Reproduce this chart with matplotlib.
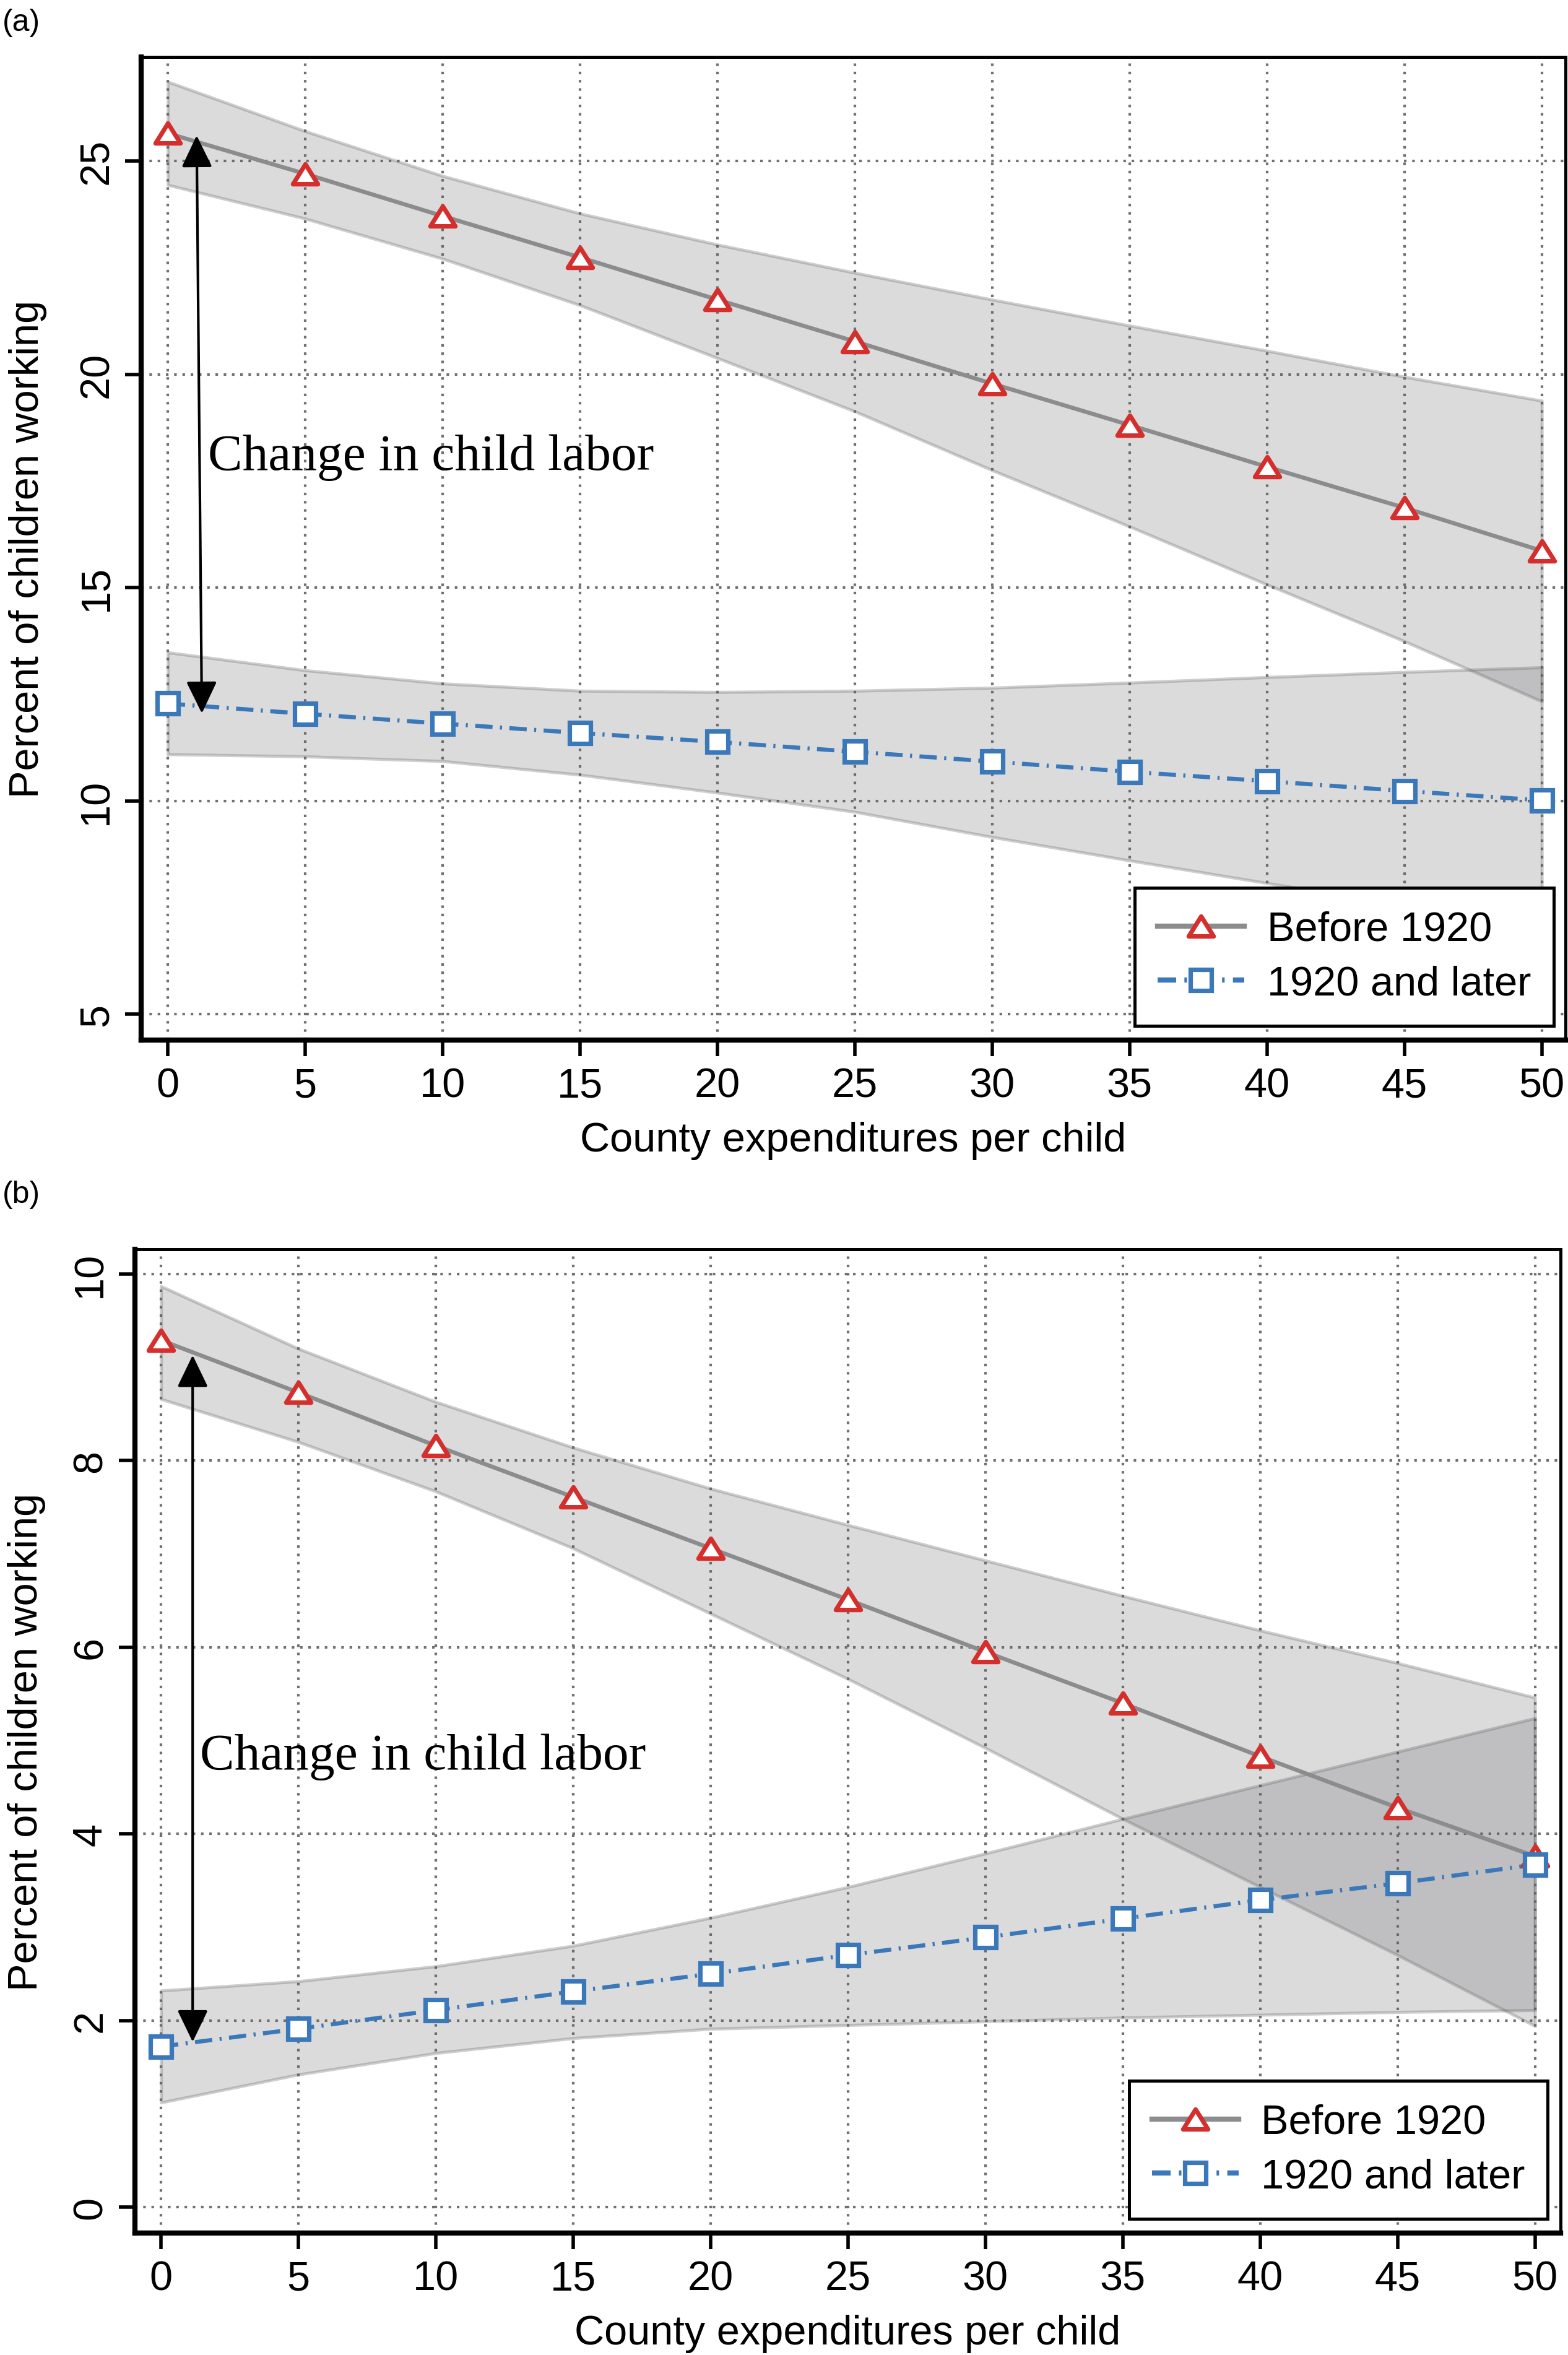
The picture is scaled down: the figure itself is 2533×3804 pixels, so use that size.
import matplotlib.pyplot as plt
from matplotlib.lines import Line2D
from matplotlib.markers import MarkerStyle
from matplotlib.path import Path

plt.rcParams.update(
    {
        "font.family": ["Liberation Sans", "DejaVu Sans"],
        "font.size": 24,
        "lines.scale_dashes": True,
    }
)

# County expenditures per child (x values, both panels)
spend = [0, 5, 10, 15, 20, 25, 30, 35, 40, 45, 50]

# Panel (a): percent of children working
a_before = [25.65, 24.7, 23.71, 22.74, 21.75, 20.77, 19.78, 18.81, 17.83, 16.87, 15.86]
a_before_lo = [24.44, 23.65, 22.71, 21.62, 20.38, 19.13, 17.75, 16.43, 15.07, 13.74, 12.33]
a_before_hi = [26.86, 25.7, 24.65, 23.77, 23.04, 22.38, 21.75, 21.14, 20.55, 19.94, 19.38]
a_after = [12.28, 12.04, 11.81, 11.59, 11.38, 11.15, 10.92, 10.68, 10.46, 10.23, 10.01]
a_after_lo = [11.09, 11.04, 10.93, 10.61, 10.19, 9.74, 9.15, 8.6, 8.07, 7.55, 7.05]
a_after_hi = [13.48, 13.06, 12.75, 12.58, 12.55, 12.58, 12.65, 12.77, 12.9, 13.02, 13.13]

# Panel (b)
b_before = [9.29, 8.73, 8.16, 7.61, 7.06, 6.51, 5.95, 5.4, 4.83, 4.28, 3.76]
b_before_lo = [8.66, 8.2, 7.67, 7.06, 6.36, 5.66, 4.92, 4.16, 3.43, 2.7, 1.94]
b_before_hi = [9.87, 9.2, 8.63, 8.14, 7.7, 7.31, 6.93, 6.55, 6.18, 5.83, 5.46]
b_after = [1.72, 1.91, 2.11, 2.31, 2.5, 2.7, 2.89, 3.09, 3.29, 3.47, 3.67]
b_after_lo = [1.12, 1.42, 1.65, 1.81, 1.91, 1.95, 1.99, 2.03, 2.06, 2.09, 2.11]
b_after_hi = [2.32, 2.42, 2.58, 2.8, 3.1, 3.43, 3.79, 4.16, 4.52, 4.88, 5.24]

x_ticks = [0, 5, 10, 15, 20, 25, 30, 35, 40, 45, 50]
a_yticks = [5, 10, 15, 20, 25]
b_yticks = [0, 2, 4, 6, 8, 10]
series_labels = ["Before 1920", "1920 and later"]

RED = "#d42f2c"
BLUE = "#3b78b9"
LINE_GRAY = "#8b8c8e"
BAND_FACE = (0.38, 0.384, 0.392, 0.225)
BAND_EDGE = (0.38, 0.384, 0.392, 0.30)
DASHDOT = (0, (4.2, 1.8, 0.5, 1.8))

tri = MarkerStyle(
    Path([(-1, -0.8), (1, -0.8), (0, 0.8), (-1, -0.8)], closed=True),
    joinstyle="miter",
)
sq = MarkerStyle("s", joinstyle="miter")

fig = plt.figure(figsize=(12.665, 19.025), dpi=200)
ax_a = fig.add_axes([0.0900, 0.55821, 0.9084, 0.41735])
ax_b = fig.add_axes([0.08606, 0.05177, 0.9092, 0.41761])


def draw_panel(ax, before, before_lo, before_hi, after, after_lo, after_hi,
               xlim, ylim, yticks, arrow, text_pos, legend_anchor):
    ax.fill_between(spend, before_lo, before_hi, facecolor=BAND_FACE,
                    edgecolor=BAND_EDGE, linewidth=1.8, zorder=1)
    ax.fill_between(spend, after_lo, after_hi, facecolor=BAND_FACE,
                    edgecolor=BAND_EDGE, linewidth=1.8, zorder=1)
    ax.plot(spend, before, color=LINE_GRAY, lw=2.4, zorder=2)
    ax.plot(spend, after, color=BLUE, lw=2.4, ls=DASHDOT, zorder=2)
    ax.plot(spend, before, ls="none", marker=tri, ms=14.5, mew=2.6,
            mec=RED, mfc="white", zorder=3)
    ax.plot(spend, after, ls="none", marker=sq, ms=12, mew=2.6,
            mec=BLUE, mfc="white", zorder=3)

    (x0, y0), (x1, y1) = arrow
    ax.annotate(
        "", xy=(x0, y0), xytext=(x1, y1),
        arrowprops=dict(arrowstyle="<|-|>,head_length=16,head_width=7.7",
                        mutation_scale=1, color="black", lw=1.5,
                        shrinkA=0, shrinkB=0),
        zorder=4,
    )
    ax.text(text_pos[0], text_pos[1], "Change in child labor",
            family=["Liberation Serif", "DejaVu Serif"], fontsize=30,
            va="baseline", ha="left", zorder=4)

    ax.set_xlim(*xlim)
    ax.set_ylim(*ylim)
    ax.set_xticks(x_ticks)
    ax.set_yticks(yticks)
    ax.grid(True, color="#707070", lw=1.5, ls=(0, (1, 2.2)), zorder=0)
    ax.set_axisbelow(True)
    ax.tick_params(axis="both", direction="out", length=9.5, width=2.0,
                   labelsize=24, colors="black")
    ax.tick_params(axis="x", pad=6)
    ax.tick_params(axis="y", pad=5)
    plt.setp(ax.get_yticklabels(), rotation=90, va="center")
    for side in ["left", "bottom"]:
        ax.spines[side].set_linewidth(3.0)
    for side in ["top", "right"]:
        ax.spines[side].set_linewidth(1.8)

    ax.set_xlabel("County expenditures per child", fontsize=24, va="center")
    ax.set_ylabel("Percent of children working", fontsize=24, va="center")
    ax.xaxis.set_label_coords(0.5, -0.102)

    handles = [
        Line2D([], [], color=LINE_GRAY, lw=3.0, marker=tri, ms=14.5, mew=2.6,
               mec=RED, mfc="white"),
        Line2D([], [], color=BLUE, lw=3.0, ls=(0, (3.6, 1.6, 0.5, 1.6)),
               marker=sq, ms=12, mew=2.6, mec=BLUE, mfc="white"),
    ]
    leg = ax.legend(handles, series_labels, loc="lower right",
                    bbox_to_anchor=legend_anchor, borderaxespad=0,
                    fancybox=False, framealpha=1, edgecolor="black",
                    handlelength=2.1, handletextpad=0.55, borderpad=0.55,
                    labelspacing=0.38, fontsize=24)
    leg.get_frame().set_linewidth(1.8)
    leg.set_zorder(5)


draw_panel(ax_a, a_before, a_before_lo, a_before_hi, a_after, a_after_lo,
           a_after_hi, (-0.97, 50.86), (4.39, 27.44), a_yticks,
           ((1.05, 25.6), (1.24, 12.05)), (1.46, 17.77), (0.9917, 0.0145))
ax_a.yaxis.set_label_coords(-0.0795, 0.5)

draw_panel(ax_b, b_before, b_before_lo, b_before_hi, b_after, b_after_lo,
           b_after_hi, (-0.95, 50.93), (-0.279, 10.265), b_yticks,
           ((1.15, 9.13), (1.15, 1.77)), (1.42, 4.70), (0.991, 0.0145))
ax_b.yaxis.set_label_coords(-0.076, 0.5)

fig.text(4 / 2533, 1 - 50 / 3805, "(a)", fontsize=18, va="baseline")
fig.text(4 / 2533, 1 - 1943 / 3805, "(b)", fontsize=18, va="baseline")

fig.savefig("out.png", dpi=200)
